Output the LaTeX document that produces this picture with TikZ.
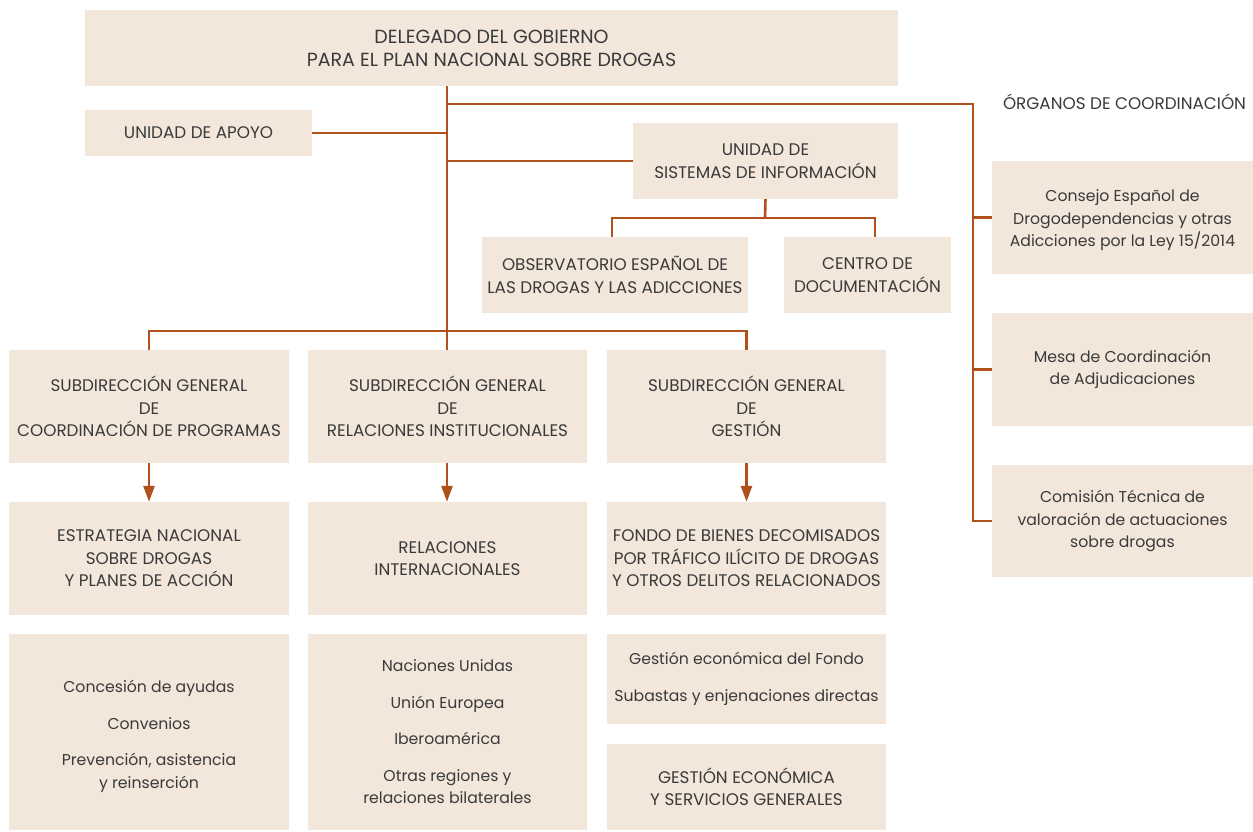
\documentclass[tikz,border=0pt]{standalone}
\usepackage{fontspec}
\setmainfont{Poppins}
\usetikzlibrary{arrows.meta}
\definecolor{boxfill}{HTML}{F3E6DB}
\definecolor{linec}{HTML}{B0501A}
\definecolor{txt}{HTML}{3A3A3A}
\tikzset{
  box/.style={fill=boxfill, draw=none, inner sep=0pt, align=center, text=txt,
    font=\fontsize{16.8}{22.5}\selectfont},
  lbox/.style={box, font=\fontsize{15.7}{22.5}\selectfont},
  dbox/.style={box, font=\fontsize{19}{23}\selectfont},
  conn/.style={draw=linec, line width=2.6pt},
  arr/.style={conn, -{Triangle[length=16pt,width=11pt]}, shorten >=0pt},
}
\begin{document}
\begin{tikzpicture}[x=1pt,y=-1pt]
\useasboundingbox (0,0) rectangle (1253,831);
% nodes
\node[dbox, minimum width=813, minimum height=76] (del) at (491.5,48) {DELEGADO DEL GOBIERNO\\PARA EL PLAN NACIONAL SOBRE DROGAS};
\node[box, minimum width=227, minimum height=46] (apoyo) at (198.5,133) {UNIDAD DE APOYO};
\node[box, minimum width=265, minimum height=76] (usi) at (765.5,161) {UNIDAD DE\\SISTEMAS DE INFORMACIÓN};
\node[box, minimum width=266, minimum height=76] (obs) at (615,275) {OBSERVATORIO ESPAÑOL DE\\LAS DROGAS Y LAS ADICCIONES};
\node[box, minimum width=167, minimum height=76] (cdoc) at (867.5,275) {CENTRO DE\\DOCUMENTACIÓN};
\node[box, minimum width=280, minimum height=113] (sub1) at (149,406.5) {SUBDIRECCIÓN GENERAL\\DE\\COORDINACIÓN DE PROGRAMAS};
\node[box, minimum width=279, minimum height=113] (sub2) at (447.5,406.5) {SUBDIRECCIÓN GENERAL\\DE\\RELACIONES INSTITUCIONALES};
\node[box, minimum width=279, minimum height=113] (sub3) at (746.5,406.5) {SUBDIRECCIÓN GENERAL\\DE\\GESTIÓN};
\node[box, minimum width=280, minimum height=113] (est) at (149,558.5) {ESTRATEGIA NACIONAL\\SOBRE DROGAS\\Y PLANES DE ACCIÓN};
\node[box, minimum width=279, minimum height=113] (rel) at (447.5,558.5) {RELACIONES\\INTERNACIONALES};
\node[box, minimum width=279, minimum height=113] (fon) at (746.5,558.5) {FONDO DE BIENES DECOMISADOS\\POR TRÁFICO ILÍCITO DE DROGAS\\Y OTROS DELITOS RELACIONADOS};
\node[lbox, minimum width=280, minimum height=196] (b1) at (149,732) {};
\node[lbox, fill=none] (b1t) at (149,736.5) {Concesión de ayudas\\[14pt]Convenios\\[14pt]Prevención, asistencia\\y reinserción};
\node[lbox, minimum width=279, minimum height=196] (b2) at (447.5,732) {Naciones Unidas\\[14pt]Unión Europea\\[14pt]Iberoamérica\\[14pt]Otras regiones y\\relaciones bilaterales};
\node[lbox, minimum width=279, minimum height=90] (b3a) at (746.5,679) {Gestión económica del Fondo\\[14pt]Subastas y enjenaciones directas};
\node[box, minimum width=279, minimum height=86] (b3b) at (746.5,787) {GESTIÓN ECONÓMICA\\Y SERVICIOS GENERALES};
\node[lbox, minimum width=261, minimum height=113] (cons) at (1122.5,217.5) {};
\node[lbox, fill=none] (const) at (1122.5,220.5) {Consejo Español de\\Drogodependencias y otras\\Adicciones por la Ley 15/2014};
\node[lbox, minimum width=261, minimum height=113] (mesa) at (1122.5,369.5) {Mesa de Coordinación\\de Adjudicaciones};
\node[lbox, minimum width=261, minimum height=112] (com) at (1122.5,521) {Comisión Técnica de\\valoración de actuaciones\\sobre drogas};
\node[box, fill=none] (org) at (1124.5,102) {ÓRGANOS DE COORDINACIÓN};
% coordinates
\coordinate (spine) at (447,331);
\coordinate (top) at (447,104);
\coordinate (rtop) at (973,104);
\coordinate (usiJ) at (765,218);
% connectors
\draw[conn] (del.south -| spine) -- (spine);
\draw[conn] (top) -- (rtop) -- (rtop |- com.west) -- (com.west);
\draw[conn] (rtop |- cons.west) -- (cons.west);
\draw[conn] (rtop |- mesa.west) -- (mesa.west);
\draw[conn] (apoyo.east) -- (apoyo.east -| spine);
\draw[conn] (usi.west -| spine) -- (usi.west);
\draw[conn] (usi.south) -- (usiJ);
\draw[conn] (obs.north -| 612,0) |- (usiJ) -| (cdoc.north -| 875,0);
\draw[conn] (sub1.north) |- (spine) -| (sub3.north);
\draw[conn] (spine) -- (sub2.north -| spine);
\draw[arr] (sub1.south) -- (est.north);
\draw[arr] (sub2.south -| spine) -- (rel.north -| spine);
\draw[arr] (sub3.south) -- (fon.north);
\end{tikzpicture}
\end{document}
